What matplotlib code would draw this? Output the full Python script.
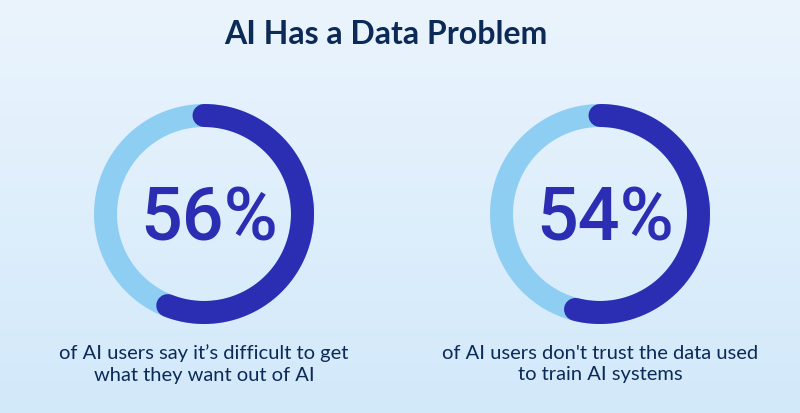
import matplotlib.pyplot as plt
import numpy as np
from matplotlib.colors import LinearSegmentedColormap

# data
title = "AI Has a Data Problem"
values = [56, 54]
labels = ["56%", "54%"]
captions = ["of AI users say it\u2019s difficult to get\nwhat they want out of AI",
            "of AI users don't trust the data used\nto train AI systems"]

W, H = 800, 413
dark = "#2B2DB3"
light = "#8FCEF3"
navy = "#0C2A57"

fig = plt.figure(figsize=(W / 100, H / 100), dpi=100)
ax = fig.add_axes([0, 0, 1, 1])
ax.set_xlim(0, W)
ax.set_ylim(H, 0)
ax.axis("off")

# background gradient
bg = LinearSegmentedColormap.from_list("bg", ["#EBF4FD", "#D2E9FA"])
grad = np.linspace(0, 1, 256).reshape(-1, 1)
ax.imshow(grad, cmap=bg, extent=[0, W, H, 0], aspect="auto", zorder=0)

centers = [(204, 214), (600, 214)]
r = 98.5
lw = 23 * 72 / 100  # ring thickness in points

for (cx, cy), v, lab, cap in zip(centers, values, labels, captions):
    t = np.linspace(0, 2 * np.pi, 400)
    ax.plot(cx + r * np.cos(t), cy + r * np.sin(t), color=light, lw=lw, zorder=2)
    # dark arc, clockwise from 12 o'clock
    a = np.linspace(0, 2 * np.pi * v / 100, 300)
    ax.plot(cx + r * np.sin(a), cy - r * np.cos(a), color=dark, lw=lw,
            solid_capstyle="round", zorder=3)
    ax.text(cx + 5, cy + 6, lab, ha="center", va="center", fontsize=53,
            color=dark, family="Roboto", fontweight="medium", zorder=4)
    ax.text(cx, 364, cap, ha="center", va="center", fontsize=14.5,
            color=navy, family="Lato", linespacing=1.3, zorder=4)

ax.text(386, 34, title, ha="center", va="center", fontsize=23,
        color=navy, family="Lato", fontweight="bold", zorder=4)

fig.savefig("out.png", dpi=100)
